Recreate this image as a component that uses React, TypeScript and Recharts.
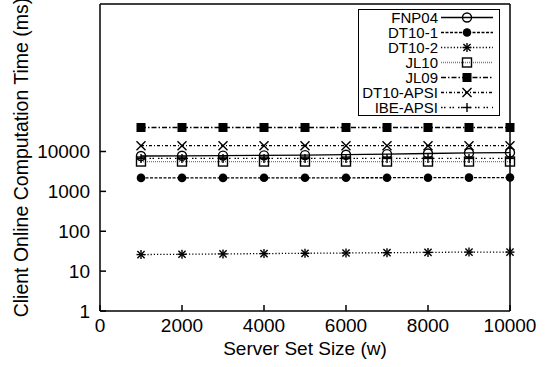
import { LineChart, Line, XAxis, YAxis, Legend } from "recharts";

const setSizes = [1000, 2000, 3000, 4000, 5000, 6000, 7000, 8000, 9000, 10000];
const fnp04 = [7700, 7800, 7900, 8000, 8100, 8300, 8600, 8900, 9200, 9400];
const dt10_1 = [2180, 2180, 2180, 2190, 2190, 2190, 2200, 2200, 2210, 2220];
const dt10_2 = [26, 26.5, 27, 27.5, 28, 28.5, 29, 29.5, 30, 30];
const jl10 = [5600, 5600, 5600, 5600, 5600, 5600, 5600, 5600, 5600, 5600];
const jl09 = [40000, 40000, 40000, 40000, 40000, 40000, 40000, 40000, 40000, 40000];
const dt10Apsi = [14000, 14000, 14000, 14000, 14000, 14000, 14000, 14000, 14000, 14000];
const ibeApsi = [6700, 6700, 6700, 6700, 6700, 6700, 6700, 6700, 6700, 6700];

const xTicks = [0, 2000, 4000, 6000, 8000, 10000];
const yTicks = [1, 10, 100, 1000, 10000];

type Kind = "circleOpen" | "circle" | "star" | "square" | "squareFilled" | "cross" | "plus";

const series: { key: string; name: string; kind: Kind; dash?: string; color: string }[] = [
  { key: "fnp04", name: "FNP04", kind: "circleOpen", color: "#000" },
  { key: "dt10_1", name: "DT10-1", kind: "circle", dash: "3 1.5", color: "#000" },
  { key: "dt10_2", name: "DT10-2", kind: "star", dash: "1.2 2", color: "#000" },
  { key: "jl10", name: "JL10", kind: "square", dash: "1 1", color: "#777" },
  { key: "jl09", name: "JL09", kind: "squareFilled", dash: "5 2 1.5 2", color: "#000" },
  { key: "dt10Apsi", name: "DT10-APSI", kind: "cross", dash: "3 2 1 2", color: "#000" },
  { key: "ibeApsi", name: "IBE-APSI", kind: "plus", dash: "1.5 1.5 1.5 4", color: "#000" },
];

const values: Record<string, number[]> = { fnp04, dt10_1, dt10_2, jl10, jl09, dt10Apsi, ibeApsi };

const data = setSizes.map((w, i) => {
  const row: Record<string, number> = { w };
  for (const s of series) row[s.key] = values[s.key][i];
  return row;
});

const font = "'Liberation Sans', Arial, sans-serif";

const Marker = ({ kind, cx, cy }: { kind: Kind; cx: number; cy: number }) => {
  const s = 4.5;
  const st = { stroke: "#000", strokeWidth: 1.4 };
  switch (kind) {
    case "circleOpen":
      return <circle cx={cx} cy={cy} r={4.5} fill="none" {...st} />;
    case "circle":
      return <circle cx={cx} cy={cy} r={4.3} fill="#000" />;
    case "star":
      return (
        <g {...st}>
          <line x1={cx - s} y1={cy} x2={cx + s} y2={cy} />
          <line x1={cx} y1={cy - s} x2={cx} y2={cy + s} />
          <line x1={cx - s * 0.8} y1={cy - s * 0.8} x2={cx + s * 0.8} y2={cy + s * 0.8} />
          <line x1={cx - s * 0.8} y1={cy + s * 0.8} x2={cx + s * 0.8} y2={cy - s * 0.8} />
        </g>
      );
    case "square":
      return <rect x={cx - s} y={cy - s} width={s * 2} height={s * 2} fill="none" {...st} />;
    case "squareFilled":
      return <rect x={cx - s} y={cy - s} width={s * 2} height={s * 2} fill="#000" />;
    case "cross":
      return (
        <g {...st}>
          <line x1={cx - s} y1={cy - s} x2={cx + s} y2={cy + s} />
          <line x1={cx - s} y1={cy + s} x2={cx + s} y2={cy - s} />
        </g>
      );
    default:
      return (
        <g {...st}>
          <line x1={cx - s} y1={cy} x2={cx + s} y2={cy} />
          <line x1={cx} y1={cy - s} x2={cx} y2={cy + s} />
        </g>
      );
  }
};

const renderLegend = () => (
  <div
    style={{
      border: "1px solid #000",
      background: "#fff",
      width: 140,
      fontFamily: font,
      fontSize: 15,
      lineHeight: "15px",
    }}
  >
    {series.map((s) => (
      <div key={s.key} style={{ display: "flex", alignItems: "center", height: 15 }}>
        <span style={{ width: 79, textAlign: "right", color: "#000" }}>{s.name}</span>
        <svg width={56} height={15} style={{ marginLeft: 3 }}>
          <line
            x1={0}
            y1={7.5}
            x2={52}
            y2={7.5}
            stroke={s.color}
            strokeWidth={1.3}
            strokeDasharray={s.dash}
          />
          <Marker kind={s.kind} cx={26} cy={7.5} />
        </svg>
      </div>
    ))}
  </div>
);

const axisLine = { stroke: "#000", strokeWidth: 1.5 };
const tickStyle = { fill: "#000", fontSize: 19, fontFamily: font };

export default function App() {
  return (
    <div style={{ position: "absolute", left: 0, top: 0, width: 553, height: 367, background: "#fff" }}>
      <LineChart width={553} height={367} data={data} margin={{ top: 0, right: 8, bottom: 0, left: 0 }}>
        <XAxis
          dataKey="w"
          type="number"
          domain={[0, 10000]}
          ticks={xTicks}
          height={56}
          axisLine={axisLine}
          tickLine={axisLine}
          tickSize={-6}
          tickMargin={14}
          tick={tickStyle}
          label={{
            value: "Server Set Size (w)",
            position: "insideBottom",
            offset: 12,
            style: { fill: "#000", fontSize: 19, fontFamily: font },
          }}
        />
        <XAxis
          xAxisId="top"
          orientation="top"
          type="number"
          domain={[0, 10000]}
          ticks={xTicks}
          height={4}
          axisLine={axisLine}
          tickLine={axisLine}
          tickSize={-6}
          tick={false}
        />
        <YAxis
          scale="log"
          domain={[1, 50000000]}
          allowDataOverflow
          ticks={yTicks}
          width={100}
          axisLine={axisLine}
          tickLine={axisLine}
          tickSize={-6}
          tickMargin={16}
          tick={tickStyle}
          label={{
            value: "Client Online Computation Time (ms)",
            angle: -90,
            position: "insideLeft",
            offset: 21,
            style: { fill: "#000", fontSize: 19.5, fontFamily: font, textAnchor: "middle" },
          }}
        />
        <YAxis
          yAxisId="r"
          orientation="right"
          scale="log"
          domain={[1, 50000000]}
          allowDataOverflow
          ticks={yTicks}
          width={35}
          axisLine={axisLine}
          tickLine={axisLine}
          tickSize={-6}
          tick={false}
        />
        <Legend
          layout="vertical"
          align="center"
          verticalAlign="middle"
          content={renderLegend}
          wrapperStyle={{ position: "absolute", left: 358, top: 9, width: 142 }}
        />
        {series.map((s) => (
          <Line
            key={s.key}
            dataKey={s.key}
            name={s.name}
            type="linear"
            stroke={s.color}
            strokeWidth={1.3}
            strokeDasharray={s.dash}
            isAnimationActive={false}
            dot={(p: any) => <Marker key={`${s.key}-${p.index}`} kind={s.kind} cx={p.cx} cy={p.cy} />}
            activeDot={false}
          />
        ))}
      </LineChart>
    </div>
  );
}
